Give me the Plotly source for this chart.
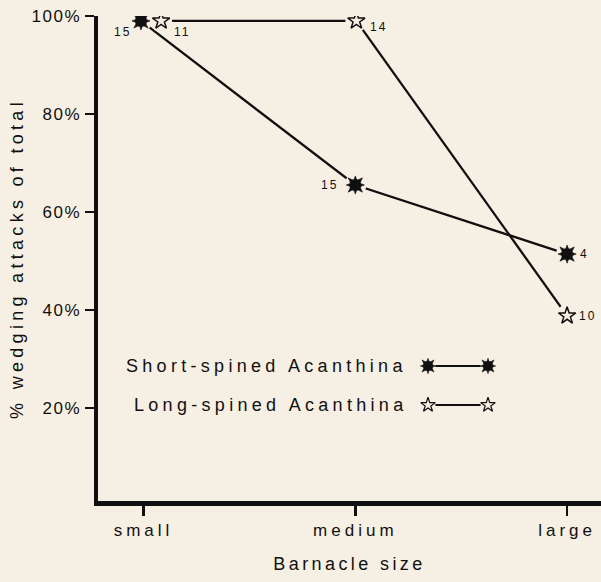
import plotly.graph_objects as go

# ---- data ----
categories = ["small", "medium", "large"]
short_vals = [99, 65.5, 51.4]
long_vals = [99, 99, 38.8]
short_n = [15, 15, 4]
long_n = [11, 14, 10]
y_tick_vals = [20, 40, 60, 80, 100]
y_tick_text = ["20%", "40%", "60%", "80%", "100%"]
series_names = ["Short-spined Acanthina", "Long-spined Acanthina"]
x_title = "Barnacle size"
y_title = "% wedging attacks of total"

# ---- style ----
BG = "#f6efe3"
INK = "#111010"
FONT = "Liberation Sans, Arial, Helvetica, sans-serif"
W, H = 601, 582
ML, MR, MT, MB = 98, 0, 16, 81


def spaced(t, px):
    return f'<span style="letter-spacing:{px}px">{t}</span>'


cat_x = list(range(len(categories)))
short_dodge = [-0.012, 0.0, 0.0]
long_dodge = [0.083, 0.005, 0.0]
short_x = [c + d for c, d in zip(cat_x, short_dodge)]
long_x = [c + d for c, d in zip(cat_x, long_dodge)]

fig = go.Figure()

# lines
fig.add_trace(go.Scatter(x=short_x, y=short_vals, mode="lines",
                         line=dict(color=INK, width=2.3), hoverinfo="skip"))
fig.add_trace(go.Scatter(x=long_x, y=long_vals, mode="lines",
                         line=dict(color=INK, width=2.3), hoverinfo="skip"))
# background discs to open gaps between lines and markers
fig.add_trace(go.Scatter(x=short_x + long_x, y=short_vals + long_vals, mode="markers",
                         marker=dict(symbol="circle", size=22, color=BG, line=dict(width=0)),
                         hoverinfo="skip"))
# short-spined: 8-point burst
for sym in ["star-diamond", "star-square"]:
    fig.add_trace(go.Scatter(x=short_x, y=short_vals, mode="markers",
                             marker=dict(symbol=sym, size=13, color=INK,
                                         line=dict(width=0.6, color=INK)),
                             name=series_names[0]))
# long-spined: open star
fig.add_trace(go.Scatter(x=long_x, y=long_vals, mode="markers",
                         marker=dict(symbol="star-open", size=13, color=INK,
                                     line=dict(width=1.5, color=INK)),
                         name=series_names[1]))

# sample-size labels
short_shift = [(-18, -11), (-26, 0), (17, 0)]
long_shift = [(21, -11), (22, -6), (20, 0)]
annotations = []
for xs, ys, ns, shifts in [(short_x, short_vals, short_n, short_shift),
                           (long_x, long_vals, long_n, long_shift)]:
    for xv, yv, n, (dx, dy) in zip(xs, ys, ns, shifts):
        annotations.append(dict(x=xv, y=yv, xref="x", yref="y", text=spaced(str(n), 2),
                                showarrow=False, xshift=dx, yshift=dy,
                                font=dict(family=FONT, size=12, color=INK)))

# legend (pixel-coordinate overlay axes)
leg_rows = [(series_names[0], 366, "burst"), (series_names[1], 405, "star")]
for name, py, kind in leg_rows:
    annotations.append(dict(x=409, y=py, xref="x2", yref="y2", text=spaced(name, 4.3),
                            showarrow=False, xanchor="right", yanchor="middle",
                            font=dict(family=FONT, size=18, color=INK)))
    fig.add_trace(go.Scatter(x=[428, 488], y=[py, py], mode="lines", xaxis="x2", yaxis="y2",
                             line=dict(color=INK, width=2), hoverinfo="skip"))
    fig.add_trace(go.Scatter(x=[428, 488], y=[py, py], mode="markers", xaxis="x2", yaxis="y2",
                             marker=dict(symbol="circle", size=15, color=BG), hoverinfo="skip"))
    if kind == "burst":
        for sym in ["star-diamond", "star-square"]:
            fig.add_trace(go.Scatter(x=[428, 488], y=[py, py], mode="markers",
                                     xaxis="x2", yaxis="y2",
                                     marker=dict(symbol=sym, size=11, color=INK,
                                                 line=dict(width=0.5, color=INK))))
    else:
        fig.add_trace(go.Scatter(x=[428, 488], y=[py, py], mode="markers",
                                 xaxis="x2", yaxis="y2",
                                 marker=dict(symbol="star-open", size=11, color=INK,
                                             line=dict(width=1.2, color=INK))))

fig.update_layout(
    width=W, height=H,
    margin=dict(l=ML, r=MR, t=MT, b=MB, pad=0),
    paper_bgcolor=BG, plot_bgcolor=BG,
    showlegend=False,
    hovermode=False,
    font=dict(family=FONT, color=INK),
    annotations=annotations,
    xaxis=dict(range=[-0.215, 2.16], tickvals=cat_x,
               ticktext=[spaced(c, 4) for c in categories],
               ticks="outside", ticklen=10, tickwidth=2.5, tickcolor=INK,
               showline=True, linewidth=4.5, linecolor=INK,
               showgrid=False, zeroline=False,
               tickfont=dict(family=FONT, size=17, color=INK),
               title=dict(text=spaced(x_title, 3.4), standoff=20,
                          font=dict(family=FONT, size=18, color=INK)),
               automargin=False, fixedrange=True),
    yaxis=dict(range=[1.0, 100], tickvals=y_tick_vals,
               ticktext=[spaced(t, 1.5) for t in y_tick_text],
               ticks="outside", ticklen=9, tickwidth=2.5, tickcolor=INK,
               showline=True, linewidth=4.5, linecolor=INK,
               showgrid=False, zeroline=False,
               tickfont=dict(family=FONT, size=17, color=INK),
               title=dict(text=spaced(y_title, 4.3), standoff=5,
                          font=dict(family=FONT, size=18, color=INK)),
               automargin=False, fixedrange=True),
    xaxis2=dict(overlaying="x", range=[ML, W - MR], visible=False, fixedrange=True),
    yaxis2=dict(overlaying="y", range=[H - MB, MT], visible=False, fixedrange=True),
)

fig.write_html(
    "out.html",
    config={"displayModeBar": False, "staticPlot": True},
    post_script=(
        "document.documentElement.style.margin='0';"
        "document.body.style.margin='0';"
        "document.body.style.padding='0';"
        "document.body.style.overflow='hidden';"
        f"document.body.style.background='{BG}';"
    ),
)
